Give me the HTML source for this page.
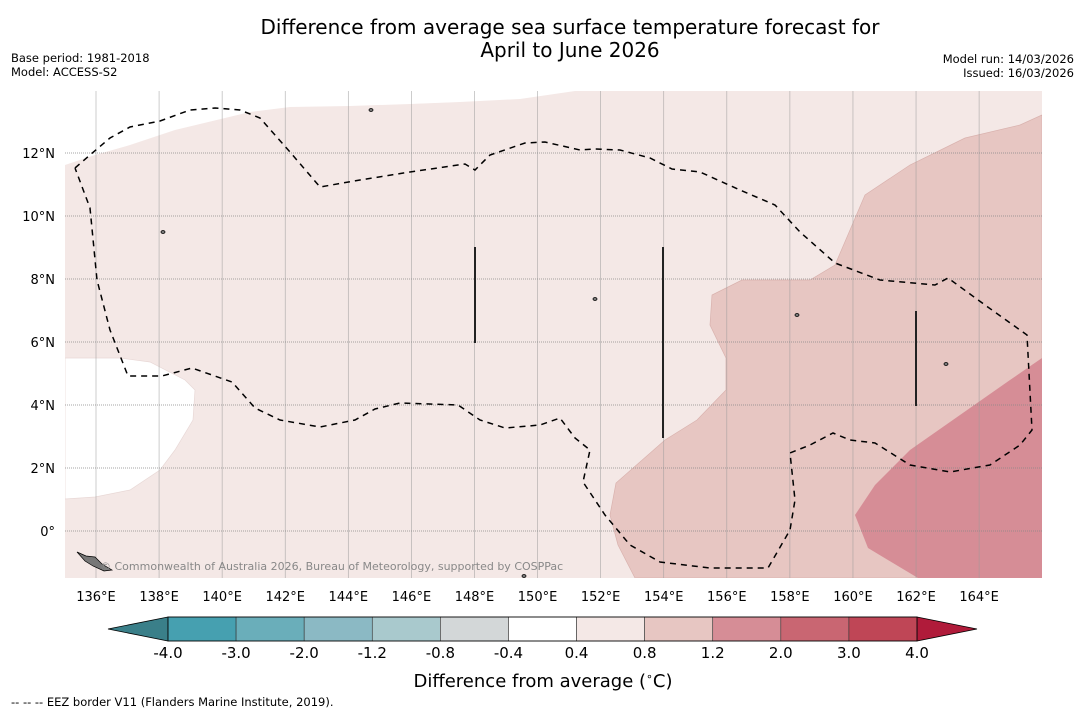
<!DOCTYPE html>
<html><head><meta charset="utf-8"><style>
body{margin:0;background:#fff;}
svg{display:block;font-family:"DejaVu Sans","Liberation Sans",sans-serif;}
</style></head><body>
<svg id="c" width="1085" height="713" viewBox="0 0 1085 713">
<text x="570" y="34" font-size="20" text-anchor="middle">Difference from average sea surface temperature forecast for</text>
<text x="570" y="57" font-size="20" text-anchor="middle">April to June 2026</text>
<text x="11" y="62" font-size="11.5">Base period: 1981-2018</text>
<text x="11" y="76" font-size="11.5">Model: ACCESS-S2</text>
<text x="1074" y="63" font-size="11.5" text-anchor="end">Model run: 14/03/2026</text>
<text x="1074" y="77" font-size="11.5" text-anchor="end">Issued: 16/03/2026</text>
<defs><clipPath id="mc"><rect x="65" y="91" width="977" height="487"/></clipPath></defs>
<g id="map" clip-path="url(#mc)"></g>
<g id="axes"></g>
<g id="cbar"></g>
<text x="543" y="687" font-size="18" text-anchor="middle">Difference from average (<tspan font-size="11" dy="-7">∘</tspan><tspan dy="7">C)</tspan></text>
<text x="11" y="706" font-size="11.5">--  --  -- EEZ border V11 (Flanders Marine Institute, 2019).</text>
</svg>
<script>
const lonTicks=[136,138,140,142,144,146,148,150,152,154,156,158,160,162,164];
const latTicks=[0,2,4,6,8,10,12];
const cbLevels=["-4.0","-3.0","-2.0","-1.2","-0.8","-0.4","0.4","0.8","1.2","2.0","3.0","4.0"];
const cbColors=["#46a0b0","#6aaeba","#8bb9c4","#a9c9cd","#d3d7d8","#ffffff","#f4e8e6","#e7c6c2","#d68d96","#c96672","#bf4656"];
const NS="http://www.w3.org/2000/svg";
const X=lon=>96+(lon-136)*31.54;
const Y=lat=>531-lat*31.5;
const P=pts=>pts.map(p=>p[0]+","+p[1]).join(" ");
function mk(t,a,parent){const e=document.createElementNS(NS,t);for(const k in a)e.setAttribute(k,a[k]);parent.appendChild(e);return e;}
const map=document.getElementById('map'),axes=document.getElementById('axes'),cb=document.getElementById('cbar');
let r=mk('rect',{x:65,y:91,width:977,height:487,fill:'#f4e8e6'},map);

let w1=mk('polygon',{points:P([[65,91],[575,91],[520,99],[460,102],[410,104],[350,106],[290,107],[250,112],[175,130],[130,145],[95,155],[65,165]]),fill:'#fff'},map);

let w2=mk('polygon',{points:P([[65,358],[120,358],[150,362],[185,380],[195,390],[193,420],[175,450],[160,470],[130,490],[95,497],[65,499]]),fill:'#fff',stroke:'#e8d8d6','stroke-width':0.7},map);

let m1=mk('polygon',{points:P([[1042,115],[1020,125],[965,138],[910,165],[865,195],[850,230],[835,265],[810,280],[742,280],[712,295],[710,325],[726,358],[726,390],[697,420],[665,440],[616,483],[610,515],[618,545],[635,578],[1042,578]]),fill:'#e7c6c2',stroke:'#d9b2ae','stroke-width':0.7},map);

let m2=mk('polygon',{points:P([[1042,358],[1010,380],[960,415],[910,450],[875,485],[855,515],[868,548],[918,578],[1042,578]]),fill:'#d68d96'},map);

lonTicks.forEach(l=>{let g=mk('line',{x1:X(l),x2:X(l),y1:91,y2:578,stroke:'#999','stroke-width':0.7,opacity:0.7},map);

let t=mk('text',{x:X(l),y:601,'font-size':13,'text-anchor':'middle'},axes);t.textContent=l+"°E";
});
latTicks.forEach(l=>{let g=mk('line',{x1:65,x2:1042,y1:Y(l),y2:Y(l),stroke:'#888','stroke-width':0.8,'stroke-dasharray':'1,1'},map);

let t=mk('text',{x:55,y:Y(l)+5,'font-size':13,'text-anchor':'end'},axes);t.textContent=l===0?"0°":l+"°N";
});
let e=mk('polyline',{points:P([[75,168],[90,155],[110,138],[130,127],[160,121],[190,110],[215,108],[240,110],[260,118],[290,152],[320,187],[360,180],[410,172],[465,164],[475,170],[490,155],[525,143],[545,142],[580,150],[595,149],[620,150],[650,158],[672,169],[700,172],[740,190],[775,205],[800,232],[835,263],[880,280],[935,285],[948,278],[985,305],[1027,335],[1032,430],[1020,445],[990,465],[950,472],[910,465],[875,443],[850,440],[833,433],[810,445],[790,453],[795,500],[790,530],[768,568],[710,568],[660,562],[630,545],[605,515],[583,482],[590,450],[575,438],[560,418],[540,425],[505,428],[480,420],[458,405],[400,403],[375,409],[355,420],[320,427],[280,420],[255,408],[232,382],[192,368],[162,376],[128,376],[110,330],[97,280],[90,208],[75,168]]),fill:'none',stroke:'#000','stroke-width':1.5,'stroke-dasharray':'6,5'},map);

[[475,247,343],[663,247,438],[916,311,406]].forEach(v=>{let l=mk('line',{x1:v[0],x2:v[0],y1:v[1],y2:v[2],stroke:'#222','stroke-width':2},map);
});
let isl=mk('polygon',{points:P([[77,552],[86,556],[95,557],[102,564],[112,570],[104,571],[93,566],[85,561]]),fill:'#777',stroke:'#000','stroke-width':0.7},map);

[[371,110],[797,315],[595,299],[163,232],[946,364],[524,576]].forEach(d=>{let c=mk('ellipse',{cx:d[0],cy:d[1],rx:2,ry:1.5,fill:'#777',stroke:'#000','stroke-width':0.8},map);
});
let wm=mk('text',{x:100,y:570,'font-size':11,fill:'#888'},map);wm.textContent="© Commonwealth of Australia 2026, Bureau of Meteorology, supported by COSPPac";

const cx0=168,cx1=917,cy=617,ch=24,bw=(cx1-cx0)/cbColors.length;
let tl=mk('polygon',{points:P([[cx0,cy],[108,cy+ch/2],[cx0,cy+ch]]),fill:'#3a7f89',stroke:'#000','stroke-width':0.8},cb);

let tr=mk('polygon',{points:P([[cx1,cy],[977,cy+ch/2],[cx1,cy+ch]]),fill:'#b01b3a',stroke:'#000','stroke-width':0.8},cb);

cbColors.forEach((c,i)=>{let b=mk('rect',{x:cx0+i*bw,y:cy,width:bw,height:ch,fill:c,stroke:'#333','stroke-width':0.6},cb);
});
mk('rect',{x:cx0,y:cy,width:cx1-cx0,height:ch,fill:'none',stroke:'#000','stroke-width':0.8},cb);
cbLevels.forEach((s,i)=>{let t=mk('text',{x:cx0+i*bw,y:658,'font-size':15,'text-anchor':'middle'},cb);t.textContent=s;
});
</script>
</body></html>
